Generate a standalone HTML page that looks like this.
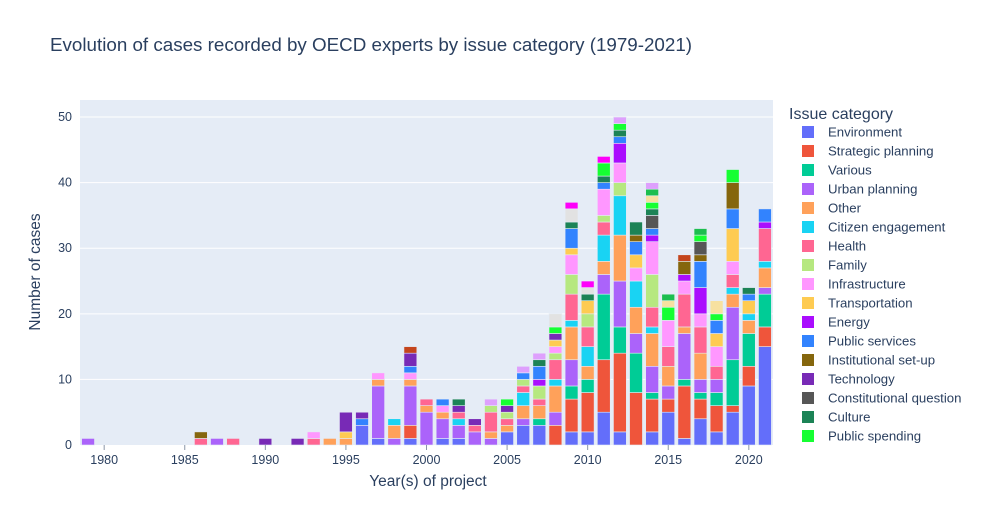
<!DOCTYPE html>
<html><head><meta charset="utf-8"><style>
body{margin:0;background:#fff;}
svg{display:block;font-family:"Liberation Sans",Arial,sans-serif;}
</style></head><body>
<svg id="chart" width="983" height="525">
<rect x="0" y="0" width="983" height="525" fill="#fff"/>
<text x="50" y="51" font-size="18.8" fill="#2a3f5f">Evolution of cases recorded by OECD experts by issue category (1979-2021)</text>
<rect x="80" y="100" width="693" height="345" fill="#e5ecf6"/>
<g id="grid"></g><g id="bars"></g><g id="axes"></g><g id="legend"></g>
<text x="428" y="486" font-size="15.5" fill="#2a3f5f" text-anchor="middle">Year(s) of project</text>
<text transform="translate(40,272) rotate(-90)" font-size="15.5" fill="#2a3f5f" text-anchor="middle">Number of cases</text>
</svg>
<script>
const categories = ["Environment","Strategic planning","Various","Urban planning","Other","Citizen engagement","Health","Family","Infrastructure","Transportation","Energy","Public services","Institutional set-up","Technology","Constitutional question","Culture","Public spending","Housing","Education","Governance","Security","Economy","Social"];
const colors = ["#636efa","#EF553B","#00cc96","#ab63fa","#FFA15A","#19d3f3","#FF6692","#B6E880","#FF97FF","#FECB52","#AA0DFE","#3283FE","#85660D","#782AB6","#565656","#1C8356","#16FF32","#F7E1A0","#E2E2E2","#1CBE4F","#C4451C","#DEA0FD","#FE00FA"];
const years = [1979,1986,1987,1988,1990,1992,1993,1994,1995,1996,1997,1998,1999,2000,2001,2002,2003,2004,2005,2006,2007,2008,2009,2010,2011,2012,2013,2014,2015,2016,2017,2018,2019,2020,2021];
// [categoryIndex, count] pairs per year
const counts = [
[[3,1]],
[[6,1],[12,1]],
[[3,1]],
[[6,1]],
[[13,1]],
[[13,1]],
[[6,1],[8,1]],
[[4,1]],
[[4,1],[9,1],[13,3]],
[[0,3],[11,1],[13,1]],
[[0,1],[3,8],[4,1],[8,1]],
[[3,1],[4,2],[5,1]],
[[0,1],[1,2],[3,6],[4,1],[8,1],[11,1],[13,2],[20,1]],
[[3,5],[4,1],[6,1]],
[[0,1],[3,3],[4,1],[8,1],[11,1]],
[[0,1],[3,2],[5,1],[6,1],[13,1],[15,1]],
[[3,2],[6,1],[13,1]],
[[3,1],[4,1],[6,3],[7,1],[21,1]],
[[0,2],[4,1],[6,1],[7,1],[13,1],[16,1]],
[[0,3],[3,1],[4,2],[5,2],[6,1],[7,1],[11,1],[21,1]],
[[0,3],[2,1],[4,2],[6,1],[7,2],[10,1],[11,2],[15,1],[21,1]],
[[1,3],[3,2],[4,4],[5,1],[6,3],[7,1],[8,1],[9,1],[13,1],[16,1],[18,2]],
[[0,2],[1,5],[2,2],[3,4],[4,5],[5,1],[6,4],[7,3],[8,3],[9,1],[11,3],[15,1],[18,2],[22,1]],
[[0,2],[1,6],[2,2],[4,2],[5,3],[6,3],[7,2],[9,2],[15,1],[18,1],[22,1]],
[[0,5],[1,8],[2,10],[3,3],[4,2],[5,4],[6,2],[7,1],[8,4],[11,1],[15,1],[16,2],[22,1]],
[[0,2],[1,12],[2,4],[3,7],[4,7],[5,6],[7,2],[8,3],[10,3],[11,1],[15,1],[16,1],[21,1]],
[[1,8],[2,6],[3,3],[4,4],[5,4],[8,2],[9,2],[11,2],[12,1],[15,2]],
[[0,2],[1,5],[2,1],[3,4],[4,5],[5,1],[6,3],[7,5],[8,5],[10,1],[11,1],[14,2],[15,1],[16,1],[17,1],[19,1],[21,1]],
[[0,5],[1,2],[3,2],[4,3],[6,3],[8,4],[16,2],[17,1],[19,1]],
[[0,1],[1,8],[2,1],[3,7],[4,1],[6,5],[8,2],[10,1],[12,2],[20,1]],
[[0,4],[1,3],[2,1],[3,2],[4,4],[6,4],[8,2],[10,4],[11,4],[12,1],[14,2],[16,1],[19,1]],
[[0,2],[1,4],[2,2],[3,2],[6,2],[8,3],[9,2],[11,2],[16,1],[17,2]],
[[0,5],[1,1],[2,7],[3,8],[4,2],[5,1],[6,2],[8,2],[9,5],[11,3],[12,4],[16,2]],
[[0,9],[1,3],[2,5],[4,2],[5,1],[9,2],[11,1],[15,1]],
[[0,15],[1,3],[2,5],[3,1],[4,3],[5,1],[6,5],[10,1],[11,2]]
];
const xTicks = [1980,1985,1990,1995,2000,2005,2010,2015,2020];
const yTicks = [0,10,20,30,40,50];
const legendCount = 17;

const NS="http://www.w3.org/2000/svg";
const X0=80,X1=773,Y0=445,Y1=100;
const xMin=1978.5,xMax=2021.5,yMax=52.6;
const xs=v=>X0+(v-xMin)/(xMax-xMin)*(X1-X0);
const ys=v=>Y0-v/yMax*(Y0-Y1);
const bw=(X1-X0)/(xMax-xMin)*0.8;
function mk(tag,attrs,parent){const e=document.createElementNS(NS,tag);for(const k in attrs)e.setAttribute(k,attrs[k]);parent.appendChild(e);return e;}
const grid=document.getElementById('grid'),bars=document.getElementById('bars'),axes=document.getElementById('axes'),legend=document.getElementById('legend');
yTicks.forEach(t=>{
  if(t>0){const l=mk('line',{x1:X0,x2:X1,y1:ys(t),y2:ys(t),stroke:'#fff','stroke-width':1},grid);
  
  }
  const tx=mk('text',{x:X0-8,y:ys(t)+4,'font-size':12.5,fill:'#2a3f5f','text-anchor':'end'},axes);
  tx.textContent=t;
  
  
});
xTicks.forEach(t=>{
  const l=mk('line',{x1:xs(t),x2:xs(t),y1:Y0,y2:Y0+5,stroke:'#8a96a8','stroke-width':1},axes);
  
  
  const tx=mk('text',{x:xs(t),y:Y0+19,'font-size':12.5,fill:'#2a3f5f','text-anchor':'middle'},axes);
  tx.textContent=t;
  
  
});
years.forEach((yr,i)=>{
  let cum=0;
  counts[i].forEach(([c,n])=>{
    const yTop=ys(cum+n),yBot=ys(cum);
    const r=mk('rect',{x:xs(yr)-bw/2,y:yTop,width:bw,height:yBot-yTop,fill:colors[c],stroke:'#e5ecf6','stroke-width':0.6},bars);
    
    
    cum+=n;
  });
});
const lt=mk('text',{x:789,y:119,'font-size':16,fill:'#2a3f5f'},legend);
lt.textContent='Issue category';


for(let i=0;i<legendCount;i++){
  const cy=132+i*19;
  const g=mk('g',{},legend);
  
  
  mk('rect',{x:802,y:cy-6,width:12,height:12,fill:colors[i]},g);
  const t=mk('text',{x:828,y:cy+4.5,'font-size':13.2,fill:'#2a3f5f'},g);
  t.textContent=categories[i];
}
</script>
</body></html>
